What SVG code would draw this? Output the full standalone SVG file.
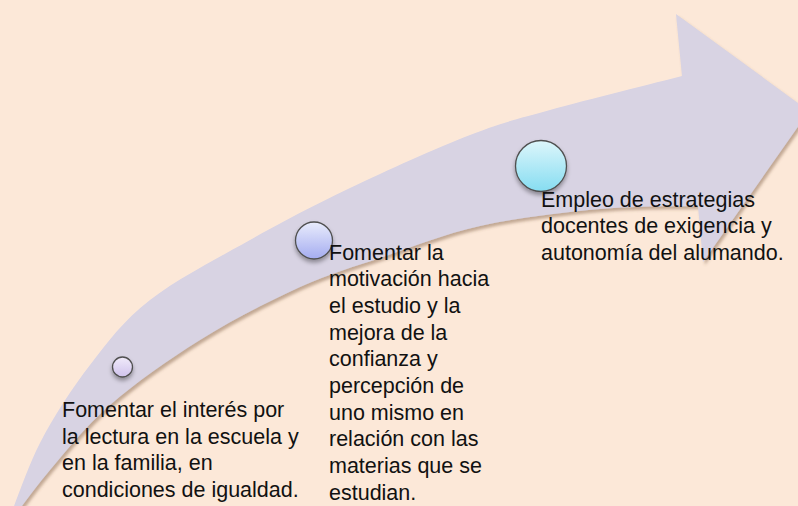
<svg xmlns="http://www.w3.org/2000/svg" width="798" height="506" viewBox="0 0 798 506">
<defs>
<style>
.t{font-family:"Liberation Sans",Arial,sans-serif;font-size:21.5px;fill:#111}
.c{stroke:#505050;stroke-width:1.3}
</style>
<filter id="as" x="-10%" y="-10%" width="120%" height="120%">
<feDropShadow dx="2" dy="3" stdDeviation="1.5" flood-color="#7a5a40" flood-opacity="0.45"/>
</filter>
<filter id="cs" x="-40%" y="-40%" width="180%" height="180%">
<feDropShadow dx="0" dy="3" stdDeviation="2" flood-color="#000" flood-opacity="0.35"/>
</filter>
<linearGradient id="g1" x1="0" y1="0" x2="0" y2="1"><stop offset="0" stop-color="#F1EBFA"/><stop offset="1" stop-color="#CFC2EC"/></linearGradient>
<linearGradient id="g2" x1="0" y1="0" x2="0" y2="1"><stop offset="0" stop-color="#E9ECFC"/><stop offset="1" stop-color="#A4ACF0"/></linearGradient>
<linearGradient id="g3" x1="0" y1="0" x2="0" y2="1"><stop offset="0" stop-color="#DDF6FB"/><stop offset="1" stop-color="#86DDF1"/></linearGradient>
</defs>
<rect width="798" height="506" fill="#FCE8D8"/>
<g id="connectors">
<path id="arrow" filter="url(#as)" fill="#D8D3E3" d="M6,528 C11.7,513.8 26,470.2 40,443 C54,415.8 71.7,388.8 90,365 C108.3,341.2 123.3,320.8 150,300 C176.7,279.2 216.7,258.7 250,240 C283.3,221.3 313.3,205.5 350,188 C386.7,170.5 436.7,148 470,135 C503.3,122 514.7,119.8 550,110 C585.3,100.2 660,81.7 682,76 L676,14 L809,111 L703,262 L698,206 C681.7,206.5 636.3,205.7 600,209 C563.7,212.3 516.2,218 480,226 C443.8,234 413,246.8 383,257 C353,267.2 330.5,273.2 300,287 C269.5,300.8 231.7,320.3 200,340 C168.3,359.7 135,383.3 110,405 C85,426.7 67.3,449.5 50,470 C32.7,490.5 13.3,518.3 6,528 Z"/>
</g>
<g id="node1">
<circle class="c" cx="122.5" cy="367" r="10" fill="url(#g1)" filter="url(#cs)"/>
<text class="t" x="62" y="417">Fomentar el interés por</text>
<text class="t" x="62" y="443.7">la lectura en la escuela y</text>
<text class="t" x="62" y="470.4">en la familia, en</text>
<text class="t" x="62" y="497">condiciones de igualdad.</text>
</g>
<g id="node2">
<circle class="c" cx="314" cy="240.5" r="18.5" fill="url(#g2)" filter="url(#cs)"/>
<text class="t" x="329" y="259.5">Fomentar la</text>
<text class="t" x="329" y="286.2">motivación hacia</text>
<text class="t" x="329" y="312.9">el estudio y la</text>
<text class="t" x="329" y="339.6">mejora de la</text>
<text class="t" x="329" y="366.3">confianza y</text>
<text class="t" x="329" y="393">percepción de</text>
<text class="t" x="329" y="419.7">uno mismo en</text>
<text class="t" x="329" y="446.4">relación con las</text>
<text class="t" x="329" y="473.1">materias que se</text>
<text class="t" x="329" y="499.8">estudian.</text>
</g>
<g id="node3">
<circle class="c" cx="541" cy="166" r="25.5" fill="url(#g3)" filter="url(#cs)"/>
<text class="t" x="541" y="206.6">Empleo de estrategias</text>
<text class="t" x="541" y="233.3">docentes de exigencia y</text>
<text class="t" x="541" y="260">autonomía del alumando.</text>
</g>
</svg>
